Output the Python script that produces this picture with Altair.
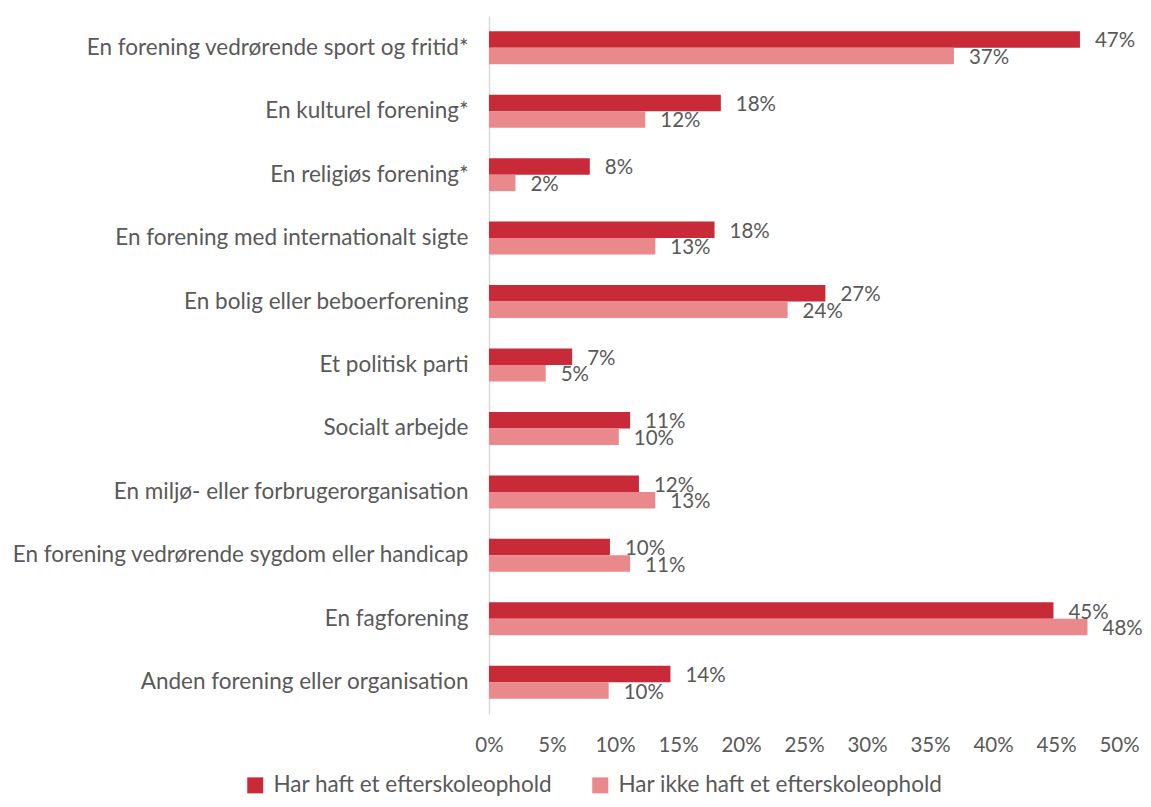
import altair as alt
import pandas as pd

categories = [
    "En forening vedrørende sport og fritid*",
    "En kulturel forening*",
    "En religiøs forening*",
    "En forening med internationalt sigte",
    "En bolig eller beboerforening",
    "Et politisk parti",
    "Socialt arbejde",
    "En miljø- eller forbrugerorganisation",
    "En forening vedrørende sygdom eller handicap",
    "En fagforening",
    "Anden forening eller organisation",
]
series = ["Har haft et efterskoleophold", "Har ikke haft et efterskoleophold"]
with_stay = [46.9, 18.4, 8.0, 17.9, 26.7, 6.6, 11.2, 11.9, 9.6, 44.8, 14.4]
without_stay = [36.9, 12.4, 2.1, 13.2, 23.7, 4.5, 10.3, 13.2, 11.2, 47.5, 9.5]
with_labels = [47, 18, 8, 18, 27, 7, 11, 12, 10, 45, 14]
without_labels = [37, 12, 2, 13, 24, 5, 10, 13, 11, 48, 10]
x_ticks = [0, 5, 10, 15, 20, 25, 30, 35, 40, 45, 50]
colors = ["#C82B37", "#EA898B"]

rows = []
for i, c in enumerate(categories):
    rows.append({"cat": c, "series": series[0], "value": with_stay[i] / 100, "label": f"{with_labels[i]}%"})
    rows.append({"cat": c, "series": series[1], "value": without_stay[i] / 100, "label": f"{without_labels[i]}%"})
df = pd.DataFrame(rows)

FONT = "Lato"
FS = 22.5
FS_NUM = 20.5
TXT = "#595959"

y_enc = alt.Y("cat:N", sort=categories,
              scale=alt.Scale(paddingInner=0.48, paddingOuter=0.24),
              axis=alt.Axis(title=None, ticks=False, domainColor="#D9D9D9", domainWidth=1.5,
                            labelFont=FONT, labelFontSize=FS, labelColor=TXT,
                            labelPadding=21, labelLimit=700))
yoff = alt.YOffset("series:N", sort=series, scale=alt.Scale(paddingInner=0))
x_enc = alt.X("value:Q", scale=alt.Scale(domain=[0, 0.5]),
              axis=alt.Axis(title=None, values=[t / 100 for t in x_ticks], format=".0%",
                            domain=False, ticks=False, grid=False, labelFlush=False,
                            labelFont=FONT, labelFontSize=FS_NUM, labelColor=TXT, labelPadding=21))

bars = alt.Chart(df).mark_bar().encode(
    y=y_enc, yOffset=yoff, x=x_enc,
    color=alt.Color("series:N", sort=series, scale=alt.Scale(domain=series, range=colors),
                    legend=alt.Legend(title=None, orient="none", direction="horizontal",
                                      legendX=-245, legendY=758, symbolType="square",
                                      symbolSize=256, labelFont=FONT, labelFontSize=FS,
                                      labelColor=TXT, columnPadding=36, labelOffset=7,
                                      labelLimit=700, symbolStrokeWidth=0)),
)
labels = alt.Chart(df).mark_text(align="left", baseline="middle", dx=15, dy=2,
                                  font=FONT, fontSize=FS_NUM, color=TXT).encode(
    y=alt.Y("cat:N", sort=categories), yOffset=yoff, x="value:Q", text="label:N")

chart = alt.layer(bars, labels).properties(
    width=630, height=698,
    autosize=alt.AutoSizeParams(type="none"),
    padding={"left": 481, "top": 8, "right": 24, "bottom": 85},
).configure_view(stroke=None)

chart.save("out.html", embed_options={"renderer": "svg", "actions": False})
